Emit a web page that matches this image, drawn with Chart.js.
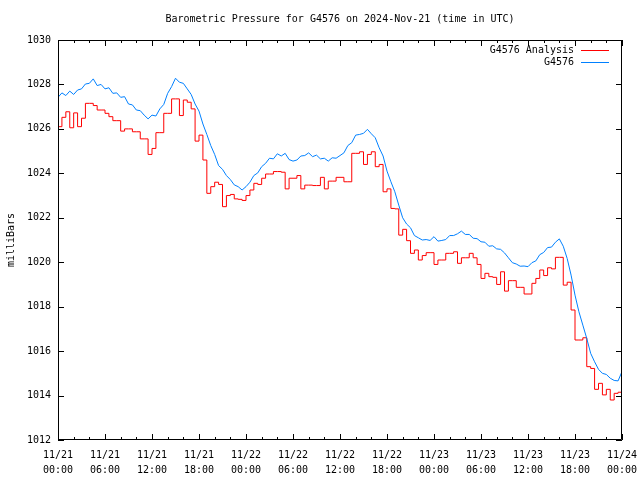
<!DOCTYPE html>
<html>
<head>
<meta charset="utf-8">
<script src="https://cdn.jsdelivr.net/npm/chart.js@4.4.1/dist/chart.umd.min.js"></script>
<style>
  html, body { margin: 0; padding: 0; background: #fff; }
</style>
</head>
<body>
<canvas id="grafico" width="640" height="480"></canvas>
<script>
// Horas desde 11/21 00:00 UTC, una muestra cada media hora
const pasoHoras = 0.5;

// Tick labels del eje X (cada 6 horas)
const fechasEje = ['11/21', '11/21', '11/21', '11/21', '11/22', '11/22', '11/22', '11/22', '11/23', '11/23', '11/23', '11/23', '11/24'];
const horasEje = ['00:00', '06:00', '12:00', '18:00', '00:00', '06:00', '12:00', '18:00', '00:00', '06:00', '12:00', '18:00', '00:00'];

// G4576 Analysis (rojo) — una fila = 6 horas
const presionAnalisis = [
  1026.67, 1026.1, 1026.52, 1026.77, 1026.05, 1026.72, 1026.1, 1026.48, 1027.15, 1027.15, 1027.05, 1026.85,
  1026.85, 1026.7, 1026.55, 1026.37, 1026.37, 1025.9, 1026.0, 1026.0, 1025.87, 1025.87, 1025.55, 1025.55,
  1024.85, 1025.12, 1025.83, 1025.83, 1026.7, 1026.7, 1027.35, 1027.35, 1026.6, 1027.3, 1027.2, 1026.9,
  1025.45, 1025.72, 1024.6, 1023.1, 1023.4, 1023.6, 1023.5, 1022.5, 1023.0, 1023.05, 1022.85, 1022.83,
  1022.78, 1023.0, 1023.25, 1023.55, 1023.5, 1023.78, 1023.97, 1023.97, 1024.08, 1024.08, 1024.05, 1023.3,
  1023.78, 1023.78, 1023.9, 1023.3, 1023.47, 1023.47, 1023.45, 1023.45, 1023.82, 1023.3, 1023.65, 1023.65,
  1023.82, 1023.82, 1023.62, 1023.62, 1024.9, 1024.9, 1024.97, 1024.4, 1024.85, 1024.97, 1024.3, 1024.4,
  1023.17, 1023.3, 1022.42, 1022.4, 1021.22, 1021.48, 1020.97, 1020.4, 1020.55, 1020.1, 1020.3, 1020.43,
  1020.43, 1019.9, 1020.1, 1020.1, 1020.4, 1020.4, 1020.47, 1019.95, 1020.2, 1020.2, 1020.4, 1020.2,
  1019.9, 1019.27, 1019.5, 1019.35, 1019.32, 1019.0, 1019.57, 1018.7, 1019.17, 1019.17, 1018.87, 1018.87,
  1018.57, 1018.57, 1019.05, 1019.27, 1019.65, 1019.4, 1019.75, 1019.7, 1020.22, 1020.22, 1018.97, 1019.1,
  1017.85, 1016.5, 1016.5, 1016.6, 1015.3, 1015.22, 1014.28, 1014.55, 1014.03, 1014.28, 1013.8, 1014.1,
  1014.15
];

// G4576 (azul)
const presionEstacion = [
  1027.42, 1027.62, 1027.5, 1027.7, 1027.55, 1027.75, 1027.8, 1028.02, 1028.05, 1028.25, 1027.95, 1028.0,
  1027.8, 1027.85, 1027.6, 1027.62, 1027.42, 1027.45, 1027.12, 1027.08, 1026.85, 1026.82, 1026.62, 1026.45,
  1026.62, 1026.58, 1026.9, 1027.1, 1027.6, 1027.9, 1028.28, 1028.1, 1028.05, 1027.8, 1027.55, 1027.12,
  1026.8, 1026.22, 1025.75, 1025.25, 1024.85, 1024.35, 1024.18, 1023.9, 1023.72, 1023.48, 1023.4, 1023.25,
  1023.4, 1023.6, 1023.9, 1024.02, 1024.3, 1024.45, 1024.68, 1024.65, 1024.88, 1024.78, 1024.9, 1024.62,
  1024.55, 1024.6, 1024.78, 1024.8, 1024.92, 1024.75, 1024.82, 1024.65, 1024.68, 1024.55, 1024.7, 1024.68,
  1024.8, 1024.92, 1025.25, 1025.38, 1025.72, 1025.75, 1025.8, 1025.98, 1025.78, 1025.6, 1025.15, 1024.78,
  1024.1, 1023.62, 1023.17, 1022.57, 1022.0, 1021.72, 1021.55, 1021.2, 1021.1, 1021.0, 1021.02, 1020.98,
  1021.15, 1020.95, 1020.98, 1021.02, 1021.2, 1021.2, 1021.28, 1021.4, 1021.25, 1021.25, 1021.08, 1021.06,
  1020.92, 1020.9, 1020.72, 1020.74, 1020.6, 1020.58, 1020.42, 1020.2, 1019.98, 1019.92, 1019.82, 1019.83,
  1019.8, 1019.98, 1020.06, 1020.34, 1020.44, 1020.66, 1020.68, 1020.9, 1021.05, 1020.72, 1020.17, 1019.42,
  1018.52, 1017.77, 1017.17, 1016.57, 1015.9, 1015.52, 1015.18, 1015.0, 1014.95, 1014.78, 1014.68, 1014.66,
  1015.08
];

const FUENTE = 'DejaVu Sans Mono';

function aPuntos(valores) {
  return valores.map((v, i) => ({ x: i * pasoHoras, y: v }));
}

// Marco y ticks hacia dentro, al estilo gnuplot
const marcoEjes = {
  id: 'marcoEjes',
  afterDatasetsDraw(chart) {
    const { ctx, chartArea: a, scales: { x, y } } = chart;
    ctx.save();
    ctx.strokeStyle = '#000';
    ctx.lineWidth = 1;
    ctx.beginPath();
    ctx.rect(a.left + 0.5, a.top + 0.5, a.right - a.left - 1, a.bottom - a.top - 1);

    for (let h = x.min; h <= x.max; h += 2) {
      const px = Math.round(x.getPixelForValue(h)) + 0.5;
      const largo = h % 6 === 0 ? 6 : 3;
      ctx.moveTo(px, a.bottom); ctx.lineTo(px, a.bottom - largo);
      ctx.moveTo(px, a.top); ctx.lineTo(px, a.top + largo);
    }
    y.ticks.forEach(t => {
      const py = Math.round(y.getPixelForValue(t.value)) + 0.5;
      ctx.moveTo(a.left, py); ctx.lineTo(a.left + 6, py);
      ctx.moveTo(a.right, py); ctx.lineTo(a.right - 6, py);
    });
    ctx.stroke();
    ctx.restore();
  }
};

// Leyenda dentro del área, arriba a la derecha
const leyendaInterna = {
  id: 'leyendaInterna',
  afterDraw(chart) {
    const { ctx, chartArea: a } = chart;
    ctx.save();
    ctx.font = '10px "' + FUENTE + '"';
    ctx.textAlign = 'right';
    ctx.textBaseline = 'middle';
    chart.data.datasets.forEach((ds, i) => {
      const py = a.top + 10 + i * 12;
      ctx.fillStyle = '#000';
      ctx.fillText(ds.label, a.right - 48, py);
      ctx.strokeStyle = ds.borderColor;
      ctx.lineWidth = 1;
      ctx.beginPath();
      ctx.moveTo(a.right - 41, py + 0.5);
      ctx.lineTo(a.right - 13, py + 0.5);
      ctx.stroke();
    });
    ctx.restore();
  }
};

function crearGrafico() {
  const ctx = document.getElementById('grafico').getContext('2d');
  new Chart(ctx, {
    type: 'line',
    data: {
      datasets: [
        {
          label: 'G4576 Analysis',
          data: aPuntos(presionAnalisis),
          borderColor: '#ff0000',
          borderWidth: 1,
          pointRadius: 0,
          stepped: 'after',
          order: 1
        },
        {
          label: 'G4576',
          data: aPuntos(presionEstacion),
          borderColor: '#0080ff',
          borderWidth: 1,
          pointRadius: 0,
          tension: 0,
          order: 0
        }
      ]
    },
    options: {
      responsive: false,
      animation: false,
      layout: { padding: { left: 0, right: 18, top: 0, bottom: 0 } },
      plugins: {
        legend: { display: false },
        tooltip: { enabled: false },
        title: {
          display: true,
          fullSize: false,
          text: 'Barometric Pressure for G4576 on 2024-Nov-21 (time in UTC)',
          color: '#000',
          font: { family: FUENTE, size: 10, weight: 'normal', lineHeight: 1.2 },
          padding: { top: 13, bottom: 15 }
        }
      },
      scales: {
        x: {
          type: 'linear',
          min: 0,
          max: 72,
          grid: { display: false, drawTicks: false },
          border: { display: false },
          afterFit: s => { s.height = 40; s.paddingLeft = 0; s.paddingRight = 0; },
          ticks: {
            stepSize: 6,
            padding: 8,
            maxRotation: 0,
            autoSkip: false,
            color: '#000',
            font: { family: FUENTE, size: 10, lineHeight: 1.5 },
            callback: v => [fechasEje[v / 6], horasEje[v / 6]]
          }
        },
        y: {
          min: 1012,
          max: 1030,
          grid: { display: false, drawTicks: false },
          border: { display: false },
          afterFit: s => { s.width = 58; s.paddingTop = 0; s.paddingBottom = 0; },
          title: {
            display: true,
            text: 'milliBars',
            color: '#000',
            font: { family: FUENTE, size: 10 },
            padding: { top: 5, bottom: 0 }
          },
          ticks: {
            stepSize: 2,
            padding: 7,
            color: '#000',
            font: { family: FUENTE, size: 10 },
            callback: v => String(v)
          }
        }
      }
    },
    plugins: [marcoEjes, leyendaInterna]
  });
}

document.addEventListener('DOMContentLoaded', crearGrafico);
</script>
</body>
</html>
